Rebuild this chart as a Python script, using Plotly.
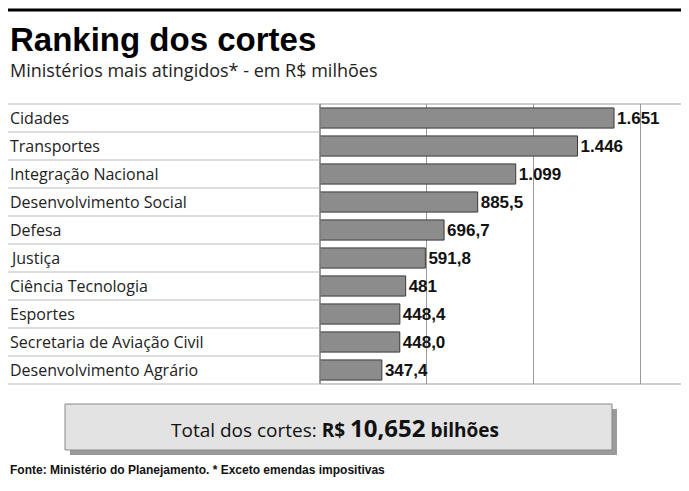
import plotly.graph_objects as go

ministerios = ["Cidades", "Transportes", "Integração Nacional", "Desenvolvimento Social",
               "Defesa", "Justiça", "Ciência Tecnologia", "Esportes",
               "Secretaria de Aviação Civil", "Desenvolvimento Agrário"]
cortes = [1651, 1446, 1099, 885.5, 696.7, 591.8, 481, 448.4, 448.0, 347.4]
rotulos = ["1.651", "1.446", "1.099", "885,5", "696,7", "591,8", "481", "448,4", "448,0", "347,4"]

# the page has an 8px body margin, so the figure is a bit smaller than the window
OFF = 8
W, H = 689 - OFF, 491 - OFF


def px(x):
    return max(x - OFF, 0) / W


def py(y):
    return 1 - max(y - OFF, 0) / H


x0, x1 = px(320), 1
ytop, ybot = py(104), py(384)

fig = go.Figure(go.Bar(
    y=ministerios, x=cortes, orientation="h",
    marker=dict(color="#8c8c8c", line=dict(color="#3a3a3a", width=1)),
    width=0.72,
    text=[f"<b>{t}</b>" for t in rotulos], textposition="outside",
    textfont=dict(family="Liberation Sans Narrow, Arial Narrow, sans-serif", size=17, color="#111"),
    cliponaxis=False,
))

fig.update_xaxes(domain=[x0, x1], range=[0, 2072], tickvals=[0, 600, 1200, 1800],
                 showticklabels=False, showgrid=True, gridcolor="#999", gridwidth=1,
                 zeroline=True, zerolinecolor="#999", showline=False)
fig.update_yaxes(domain=[ybot, ytop], autorange="reversed", showticklabels=False, showgrid=False)

shapes = [dict(type="line", xref="paper", yref="paper", x0=0, x1=1, y0=py(10), y1=py(10),
               line=dict(color="#000", width=3)),
          dict(type="rect", xref="paper", yref="paper", x0=x0, x1=x1 - 0.5 / W, y0=ybot, y1=ytop,
               line=dict(color="#999", width=1))]
for i in range(len(ministerios) + 1):
    yp = ytop - i * (ytop - ybot) / len(ministerios)
    shapes.append(dict(type="line", xref="paper", yref="paper", x0=0, x1=x0, y0=yp, y1=yp,
                       line=dict(color="#bbb", width=1)))
# caixa do total com sombra
shapes.append(dict(type="rect", xref="paper", yref="paper", x0=px(70), x1=px(617),
                   y0=py(455), y1=py(409), fillcolor="#9a9a9a", line=dict(width=0), layer="below"))
shapes.append(dict(type="rect", xref="paper", yref="paper", x0=px(65), x1=px(612),
                   y0=py(450), y1=py(404), fillcolor="#e3e3e3", line=dict(color="#888", width=1)))

annotations = [
    dict(text="<b>Ranking dos cortes</b>", x=0, y=py(39), xref="paper", yref="paper",
         xanchor="left", yanchor="middle", showarrow=False,
         font=dict(family="Liberation Sans Narrow, Arial Narrow, sans-serif", size=33, color="#000")),
    dict(text="Ministérios mais atingidos* - em R$ milhões", x=0, y=py(70), xref="paper", yref="paper",
         xanchor="left", yanchor="middle", showarrow=False,
         font=dict(family="Open Sans, sans-serif", size=18, color="#222")),
    dict(text="Total dos cortes: <b>R$ <span style='font-size:24px'>10,652</span> bilhões</b>",
         x=px(335), y=py(427), xref="paper", yref="paper", xanchor="center", yanchor="middle",
         showarrow=False, font=dict(family="Open Sans, sans-serif", size=19, color="#111")),
    dict(text="<b>Fonte: Ministério do Planejamento. * Exceto emendas impositivas</b>",
         x=0, y=py(470), xref="paper", yref="paper", xanchor="left", yanchor="middle",
         showarrow=False, font=dict(family="Liberation Sans Narrow, Arial Narrow, sans-serif", size=12, color="#111")),
]
for m in ministerios:
    annotations.append(dict(text=m, x=0, y=m, xref="paper", yref="y", xanchor="left",
                            yanchor="middle", showarrow=False,
                            font=dict(family="Open Sans, sans-serif", size=16, color="#222")))

fig.update_layout(width=W, height=H, margin=dict(l=0, r=0, t=0, b=0),
                  plot_bgcolor="white", paper_bgcolor="white", showlegend=False,
                  shapes=shapes, annotations=annotations, bargap=0.28)
fig.write_html("out.html")
